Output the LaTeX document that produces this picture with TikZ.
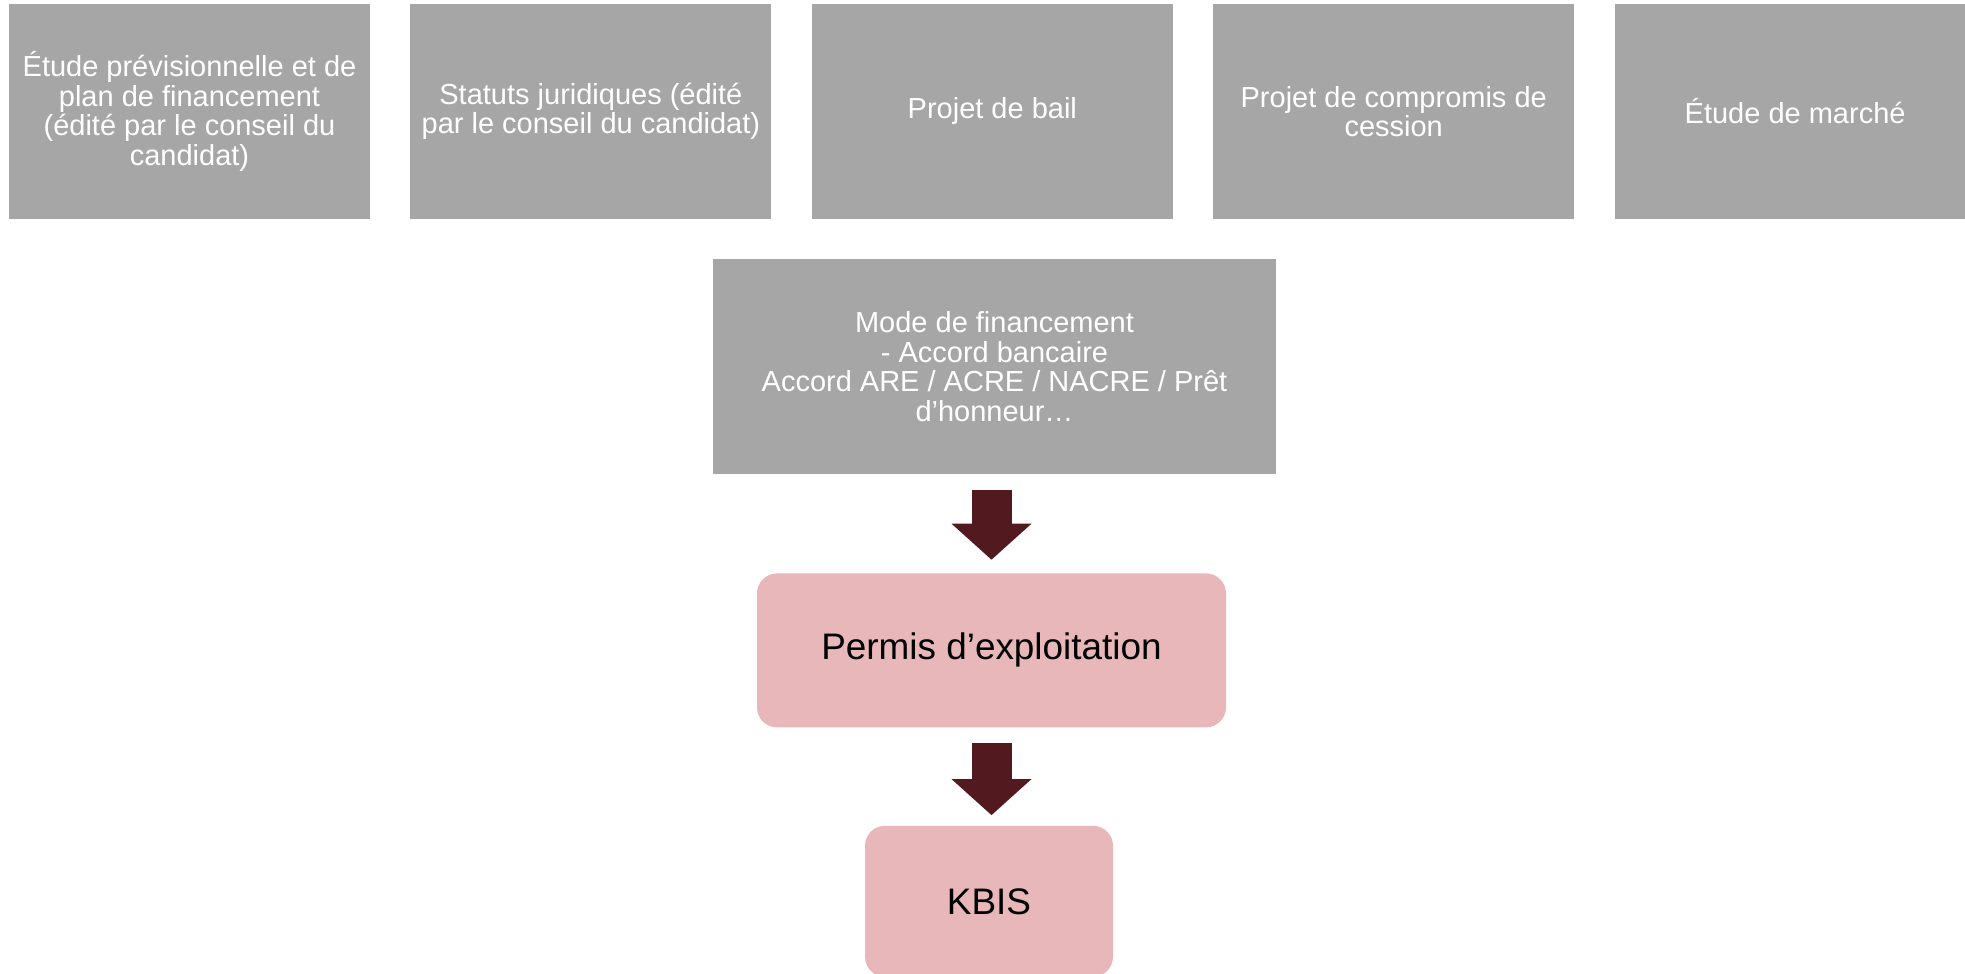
\documentclass[tikz,border=0pt]{standalone}
\usepackage{fontspec}
\setmainfont{Liberation Sans}
\usetikzlibrary{positioning,arrows.meta}
\definecolor{boxgrey}{HTML}{A6A6A6}
\definecolor{boxpink}{HTML}{E8B7BA}
\definecolor{arrowred}{HTML}{521A1F}

\tikzset{
  doc/.style={fill=boxgrey, text=white, minimum width=3.61cm, minimum height=2.15cm,
    inner sep=0pt, align=center, font=\fontsize{8.25}{8.4}\selectfont},
  result/.style={fill=boxpink, rounded corners=0.2cm, text=black, inner sep=0pt,
    font=\fontsize{10.5}{12.6}\selectfont},
  flow/.style={draw=arrowred, line width=0.4cm,
    -{Triangle[width=0.8cm, length=0.36cm, line width=0pt]}}
}

\begin{document}
\begin{tikzpicture}[node distance=0.39cm]
  \useasboundingbox (0,0) rectangle (19.65,-9.74);

  % Documents to provide
  \node[doc] (etude) at (1.895,-1.115) {Étude prévisionnelle et de\\plan de financement\\(édité par le conseil du\\candidat)};
  \node[doc] (statuts) [right=of etude] {Statuts juridiques (édité\\par le conseil du candidat)};
  \node[doc] (bail) [right=of statuts] {Projet de bail};
  \node[doc] (cession) [right=of bail] {Projet de compromis de\\cession};
  \node[doc] (marche) [right=of cession] {Étude de marché};

  % Financing
  \node[doc, minimum width=5.63cm] (mode) at (9.945,-3.665)
    {Mode de financement\\- Accord bancaire\\Accord ARE / ACRE / NACRE / Prêt\\d’honneur…};

  % Results
  \node[result, minimum width=4.69cm, minimum height=1.54cm] (permis) [below=0.98cm of mode, xshift=-0.03cm] {Permis d’exploitation};
  \node[result, minimum width=2.48cm, minimum height=1.51cm] (kbis) [below=0.97cm of permis, xshift=-0.025cm] {KBIS};

  % Arrows
  \draw[flow, shorten <=0.15cm, shorten >=0.13cm] (permis.north |- mode.south) -- (permis.north);
  \draw[flow, shorten <=0.15cm, shorten >=0.10cm] (permis.south) -- (permis.south |- kbis.north);

\end{tikzpicture}
\end{document}
